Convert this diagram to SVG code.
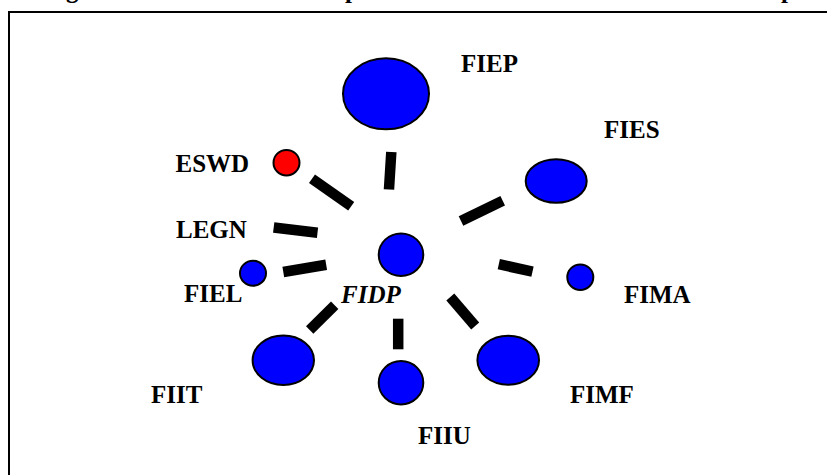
<svg xmlns="http://www.w3.org/2000/svg" width="827" height="475" viewBox="0 0 827 475">
<style>
.lbl{font-family:"Liberation Serif","Times New Roman",serif;font-weight:bold;font-size:25px;fill:#000}
.it{font-style:italic}
.node{fill:#0000ff;stroke:#000;stroke-width:2}
.red{fill:#ff0000}
.bar{stroke:#000;stroke-width:10.5;stroke-linecap:butt;fill:none}
</style>
<rect width="827" height="475" fill="#fff"/>
<g id="title-fragments">
<text class="lbl" x="66" y="-2.5">g</text>
<text class="lbl" x="345" y="-2.5">p</text>
<text class="lbl" x="781" y="-2.5">p</text>
</g>
<rect id="frame" x="9" y="12" width="830" height="480" fill="none" stroke="#000" stroke-width="2"/>
<g id="connectors">
<line class="bar" x1="391.3" y1="152" x2="389" y2="189.5"/>
<line class="bar" x1="312" y1="178.8" x2="351.2" y2="206.2"/>
<line class="bar" x1="502.7" y1="200.8" x2="461" y2="221"/>
<line class="bar" x1="273.7" y1="227.5" x2="317.5" y2="232.8"/>
<line class="bar" x1="283.3" y1="272" x2="326.2" y2="264.7"/>
<line class="bar" x1="498.8" y1="264.2" x2="532.5" y2="271.7"/>
<line class="bar" x1="334.7" y1="305.3" x2="309.7" y2="330"/>
<line class="bar" x1="398.2" y1="318.7" x2="398.2" y2="349.3"/>
<line class="bar" x1="450.3" y1="297" x2="475.2" y2="326"/>
</g>
<g id="FIEP"><ellipse class="node" cx="386" cy="93.8" rx="43" ry="35.5"/><text class="lbl" x="461" y="72">FIEP</text></g>
<g id="ESWD"><ellipse class="node red" cx="286.5" cy="162.7" rx="13" ry="12.8"/><text class="lbl" x="175.5" y="171.5">ESWD</text></g>
<g id="FIES"><ellipse class="node" cx="556.2" cy="181" rx="30.5" ry="21.7"/><text class="lbl" x="604" y="138.3">FIES</text></g>
<g id="LEGN"><text class="lbl" x="176" y="237.5">LEGN</text></g>
<g id="FIDP"><ellipse class="node" cx="401" cy="254.7" rx="22.3" ry="21.3"/><text class="lbl it" x="341" y="302.5">FIDP</text></g>
<g id="FIEL"><ellipse class="node" cx="253" cy="273.2" rx="13" ry="12.5"/><text class="lbl" x="184" y="302.2">FIEL</text></g>
<g id="FIMA"><ellipse class="node" cx="580.3" cy="277.2" rx="13" ry="12.8"/><text class="lbl" x="624" y="302.5">FIMA</text></g>
<g id="FIIT"><ellipse class="node" cx="283.3" cy="360.3" rx="30.7" ry="24.7"/><text class="lbl" x="151" y="403.2">FIIT</text></g>
<g id="FIIU"><ellipse class="node" cx="401" cy="382.7" rx="22.3" ry="21.7"/><text class="lbl" x="418" y="443.5">FIIU</text></g>
<g id="FIMF"><ellipse class="node" cx="508.2" cy="360.2" rx="30.8" ry="24.5"/><text class="lbl" x="570" y="403.2">FIMF</text></g>
</svg>
